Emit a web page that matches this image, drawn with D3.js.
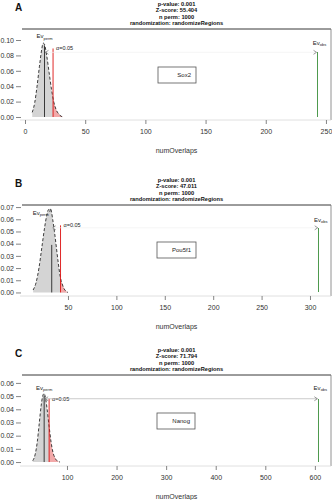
<!DOCTYPE html>
<html>
<head>
<meta charset="utf-8">
<script src="https://cdn.jsdelivr.net/npm/d3@7"></script>
<style>
  body { margin: 0; background: #fff; }
  svg { display: block; font-family: "Liberation Sans", Arial, sans-serif; }
</style>
</head>
<body>
<div id="chart"></div>
<script>
// permutation test results, one entry per panel
const panelLetters = ["A", "B", "C"];
const tfNames = ["Sox2", "Pou5f1", "Nanog"];
const pValues = ["0.001", "0.001", "0.001"];
const zScores = ["55.404", "47.011", "71.794"];
const nPerms = [1000, 1000, 1000];
const randomization = "randomizeRegions";

// density of the permuted overlap counts
const permX = [
    [6, 8, 10, 12, 14, 15, 16, 18, 20, 22, 24, 26, 28, 30, 32],
    [14, 17, 20, 23, 26, 28, 30, 31, 32, 33, 34, 36, 38, 40, 42, 44, 46, 48, 50],
    [31, 36, 40, 44, 48, 51, 54, 57, 60, 64, 68, 72, 76, 80, 86]
];
const permDensity = [
    [0.006, 0.018, 0.040, 0.066, 0.089, 0.096, 0.095, 0.080, 0.058, 0.036, 0.019, 0.009, 0.004, 0.001, 0],
    [0.002, 0.008, 0.020, 0.037, 0.054, 0.063, 0.068, 0.066, 0.069, 0.066, 0.061, 0.050, 0.037, 0.024, 0.013, 0.007, 0.003, 0.001, 0],
    [0.001, 0.006, 0.015, 0.029, 0.043, 0.050, 0.052, 0.048, 0.040, 0.027, 0.015, 0.007, 0.003, 0.001, 0]
];

const permMeans = [16.2, 33.2, 54];
const meanLineTop = [0.093, 0.039, 0.050];
const alphaCuts = [23.3, 42.3, 64];
const alphaLineTop = [0.089, 0.055, 0.048];
const observed = [243, 309, 607];
const arrowHeight = [0.084, 0.053, 0.048];

const xTicks = [
    [0, 50, 100, 150, 200, 250],
    [50, 100, 150, 200, 250, 300],
    [100, 200, 300, 400, 500, 600]
];
const yTicks = [
    [0, 0.02, 0.04, 0.06, 0.08, 0.10],
    [0, 0.01, 0.02, 0.03, 0.04, 0.05, 0.06, 0.07],
    [0, 0.01, 0.02, 0.03, 0.04, 0.05, 0.06]
];

// layout of each panel (pixels) and the axis limits
const layout = [
    {top: 29, bottom: 120, xDomain: [-2.5, 254.2], yDomain: [-0.0039, 0.1143],
     legend: {x: 158, y: 67, w: 38, h: 16}, permDx: 0, permDy: -16, obsDy: -9.5, arrowColor: "#f2f2f2"},
    {top: 205, bottom: 296, xDomain: [2.5, 321.7], yDomain: [-0.0029, 0.0717],
     legend: {x: 157, y: 242, w: 39, h: 16}, permDx: -11, permDy: -15, obsDy: -8, arrowColor: "#f2f2f2"},
    {top: 375, bottom: 466, xDomain: [9.3, 632.5], yDomain: [-0.003, 0.066],
     legend: {x: 157, y: 413, w: 38, h: 16}, permDx: 0, permDy: -11, obsDy: -11, arrowColor: "#b5b5b5"}
];

const width = 332, height = 500;
const plotLeft = 22, plotRight = 331;

const svg = d3.select("#chart").append("svg")
    .attr("width", width)
    .attr("height", height);

const defs = svg.append("defs");

panelLetters.forEach((letter, i) => {
    let lay = layout[i];
    let g = svg.append("g").attr("class", "panel");

    let x = d3.scaleLinear().domain(lay.xDomain).range([plotLeft, plotRight]);
    let y = d3.scaleLinear().domain(lay.yDomain).range([lay.bottom, lay.top]);

    // panel letter
    g.append("text")
        .attr("x", 15)
        .attr("y", lay.top - 18)
        .attr("font-size", 10)
        .attr("font-weight", "bold")
        .attr("fill", "#111")
        .text(letter);

    // title block, four centred lines
    let titleLines = [
        `p-value: ${pValues[i]}`,
        `Z-score: ${zScores[i]}`,
        `n perm: ${nPerms[i]}`,
        `randomization: ${randomization}`
    ];
    g.selectAll(".title")
        .data(titleLines)
        .enter()
        .append("text")
        .attr("class", "title")
        .attr("x", (plotLeft + plotRight) / 2)
        .attr("y", (d, k) => lay.top - 3.7 - (3 - k) * 6.6)
        .attr("text-anchor", "middle")
        .attr("font-size", 5.7)
        .attr("font-weight", "bold")
        .attr("fill", "#111")
        .text(d => d);

    // frame: top and right edges, faint bottom
    g.append("line")
        .attr("x1", plotLeft).attr("x2", plotRight)
        .attr("y1", lay.top).attr("y2", lay.top)
        .attr("stroke", "#222").attr("stroke-width", 0.9);
    g.append("line")
        .attr("x1", plotRight).attr("x2", plotRight)
        .attr("y1", lay.top).attr("y2", lay.bottom)
        .attr("stroke", "#777").attr("stroke-width", 0.8);
    g.append("line")
        .attr("x1", plotLeft - 2).attr("x2", plotRight)
        .attr("y1", lay.bottom).attr("y2", lay.bottom)
        .attr("stroke", "#d8d8d8").attr("stroke-width", 0.8);

    // axes
    let xAxis = g.append("g")
        .attr("transform", `translate(0,${lay.bottom})`)
        .call(d3.axisBottom(x).tickValues(xTicks[i]).tickSize(4).tickPadding(5).tickFormat(d3.format("d")));
    let yAxis = g.append("g")
        .attr("transform", `translate(21,0)`)
        .call(d3.axisLeft(y).tickValues(yTicks[i]).tickSize(5).tickPadding(2).tickFormat(d3.format(".2f")));

    [xAxis, yAxis].forEach(ax => {
        ax.select(".domain").remove();
        ax.selectAll(".tick line").attr("stroke", "#666").attr("stroke-width", 0.8);
        ax.selectAll(".tick text")
            .attr("font-size", 7)
            .attr("font-family", "'Liberation Sans', Arial, sans-serif")
            .attr("fill", "#333");
    });

    g.append("text")
        .attr("x", (plotLeft + plotRight) / 2)
        .attr("y", lay.bottom + 32.5)
        .attr("text-anchor", "middle")
        .attr("font-size", 7)
        .attr("fill", "#333")
        .text("numOverlaps");

    // permuted distribution
    let pts = permX[i].map((v, k) => [v, permDensity[i][k]]);
    let area = d3.area()
        .x(d => x(d[0]))
        .y0(y(0))
        .y1(d => y(d[1]))
        .curve(d3.curveMonotoneX);
    let line = d3.line()
        .x(d => x(d[0]))
        .y(d => y(d[1]))
        .curve(d3.curveMonotoneX);

    g.append("path")
        .attr("d", area(pts))
        .attr("fill", "#d4d4d4");

    // tail beyond the alpha cut-off
    let clipId = "tail" + i;
    defs.append("clipPath").attr("id", clipId)
        .append("rect")
        .attr("x", x(alphaCuts[i]))
        .attr("y", lay.top)
        .attr("width", plotRight - x(alphaCuts[i]))
        .attr("height", lay.bottom - lay.top);
    g.append("path")
        .attr("d", area(pts))
        .attr("clip-path", `url(#${clipId})`)
        .attr("fill", "#f2a9a9");

    g.append("path")
        .attr("d", line(pts))
        .attr("fill", "none")
        .attr("stroke", "#111")
        .attr("stroke-width", 0.8)
        .attr("stroke-dasharray", "3,2");

    // mean of permutations
    g.append("line")
        .attr("x1", x(permMeans[i])).attr("x2", x(permMeans[i]))
        .attr("y1", y(0)).attr("y2", y(meanLineTop[i]))
        .attr("stroke", "#111").attr("stroke-width", 0.8);

    // alpha threshold
    g.append("line")
        .attr("x1", x(alphaCuts[i])).attr("x2", x(alphaCuts[i]))
        .attr("y1", y(0)).attr("y2", y(alphaLineTop[i]))
        .attr("stroke", "#d11").attr("stroke-width", 0.9);
    g.append("text")
        .attr("x", x(alphaCuts[i]) + 3)
        .attr("y", y(alphaLineTop[i]) + 2)
        .attr("font-size", 5.5)
        .attr("fill", "#222")
        .text("\u03b1=0.05");

    // observed overlaps
    g.append("line")
        .attr("x1", x(observed[i])).attr("x2", x(observed[i]))
        .attr("y1", y(0)).attr("y2", y(arrowHeight[i]))
        .attr("stroke", "#4e9a4e").attr("stroke-width", 1)
        .attr("shape-rendering", "crispEdges");

    // double headed arrow between permuted mean and observed value
    let ay = y(arrowHeight[i]);
    let ax1 = x(permMeans[i]) + 1, ax2 = x(observed[i]) - 1;
    g.append("line")
        .attr("x1", ax1).attr("x2", ax2)
        .attr("y1", ay).attr("y2", ay)
        .attr("stroke", lay.arrowColor).attr("stroke-width", 0.7);
    g.append("path")
        .attr("d", `M${ax1 + 3},${ay - 2}L${ax1},${ay}L${ax1 + 3},${ay + 2}M${ax2 - 3},${ay - 2}L${ax2},${ay}L${ax2 - 3},${ay + 2}`)
        .attr("fill", "none")
        .attr("stroke", "#555")
        .attr("stroke-width", 0.6);

    // Ev labels
    let permLabel = g.append("text")
        .attr("x", x(permMeans[i]) + lay.permDx)
        .attr("y", ay + lay.permDy + 2)
        .attr("text-anchor", "middle")
        .attr("font-size", 6)
        .attr("fill", "#222");
    permLabel.append("tspan").text("Ev");
    permLabel.append("tspan").attr("font-size", 4).attr("dy", 1.5).text("perm");

    let obsLabel = g.append("text")
        .attr("x", x(observed[i]) + 2)
        .attr("y", ay + lay.obsDy + 2)
        .attr("text-anchor", "middle")
        .attr("font-size", 6)
        .attr("fill", "#222");
    obsLabel.append("tspan").text("Ev");
    obsLabel.append("tspan").attr("font-size", 4).attr("dy", 1.5).text("obs");

    // legend box
    g.append("rect")
        .attr("x", lay.legend.x).attr("y", lay.legend.y)
        .attr("width", lay.legend.w).attr("height", lay.legend.h)
        .attr("fill", "none")
        .attr("stroke", "#555")
        .attr("stroke-width", 0.8);
    g.append("text")
        .attr("x", lay.legend.x + lay.legend.w - 5)
        .attr("y", lay.legend.y + lay.legend.h / 2 + 2)
        .attr("text-anchor", "end")
        .attr("font-size", 6)
        .attr("fill", "#222")
        .text(tfNames[i]);
});
</script>
</body>
</html>
